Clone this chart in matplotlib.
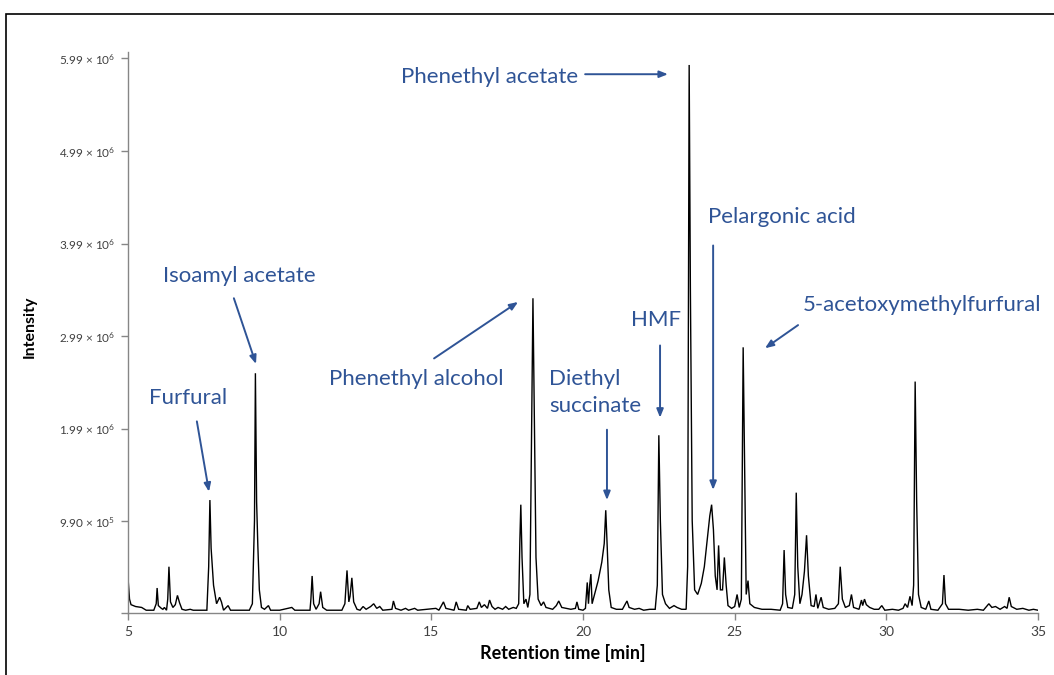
import numpy as np
import matplotlib
matplotlib.use("Agg")
import matplotlib.pyplot as plt
from matplotlib.ticker import FixedLocator, FuncFormatter
from matplotlib.patches import Rectangle

plt.rcParams['font.family'] = ['Lato', 'DejaVu Sans']
plt.rcParams['mathtext.fontset'] = 'custom'
plt.rcParams['mathtext.rm'] = 'Lato'
plt.rcParams['mathtext.it'] = 'Lato:italic'
plt.rcParams['mathtext.bf'] = 'Lato:bold'

# ---- Chromatogram trace (retention time in min, intensity in units of 1e6) ----
rt_a = [5.00, 5.05, 5.10, 5.25, 5.45, 5.60, 5.85, 5.93, 5.96, 6.00, 6.10, 6.15, 6.20, 6.27,
        6.31, 6.35, 6.40, 6.48, 6.56, 6.63, 6.70, 6.78, 6.90, 7.05, 7.15, 7.60, 7.66, 7.70,
        7.74, 7.82, 7.92, 8.02, 8.08, 8.15, 8.30, 8.38, 8.60, 9.00, 9.10, 9.17, 9.20, 9.24,
        9.28, 9.33, 9.40, 9.50, 9.63, 9.70, 10.00, 10.40, 10.50, 11.00, 11.03, 11.07, 11.12,
        11.20, 11.30, 11.35, 11.42, 11.55, 12.05, 12.15, 12.22, 12.28, 12.32, 12.38, 12.44,
        12.55, 12.65, 12.75, 12.85, 13.00, 13.10, 13.20, 13.30, 13.40, 13.70, 13.75, 13.82,
        14.00, 14.15, 14.25, 14.45, 14.55, 15.15, 15.25, 15.40, 15.48, 15.75, 15.82, 15.90,
        16.15, 16.20, 16.28, 16.50, 16.58, 16.65, 16.75, 16.85, 16.92, 17.00, 17.10, 17.20,
        17.35, 17.45, 17.55, 17.70, 17.80, 17.88, 17.92, 17.95, 17.99, 18.05, 18.12, 18.18,
        18.25, 18.32, 18.35, 18.40, 18.45, 18.52, 18.62, 18.70, 18.78, 19.00, 19.12, 19.20,
        19.30, 19.45, 19.60, 19.75, 19.80, 19.86, 20.00]
int_a = [0.38, 0.15, 0.09, 0.07, 0.06, 0.03, 0.03, 0.10, 0.27, 0.08, 0.05, 0.04, 0.06, 0.03,
         0.15, 0.50, 0.12, 0.06, 0.09, 0.19, 0.11, 0.04, 0.03, 0.04, 0.03, 0.03, 0.50, 1.22,
         0.70, 0.30, 0.10, 0.17, 0.12, 0.03, 0.08, 0.03, 0.03, 0.03, 0.10, 1.00, 2.59, 1.20,
         0.73, 0.25, 0.06, 0.04, 0.08, 0.03, 0.03, 0.06, 0.03, 0.03, 0.15, 0.40, 0.10,
         0.04, 0.10, 0.23, 0.06, 0.03, 0.03, 0.10, 0.46, 0.12, 0.18, 0.38, 0.12,
         0.04, 0.03, 0.07, 0.04, 0.07, 0.10, 0.05, 0.07, 0.03, 0.04, 0.13, 0.05,
         0.03, 0.05, 0.03, 0.05, 0.03, 0.05, 0.03, 0.12, 0.05, 0.03, 0.12, 0.04,
         0.03, 0.08, 0.04, 0.05, 0.12, 0.06, 0.09, 0.05, 0.14, 0.07, 0.04, 0.06,
         0.04, 0.07, 0.04, 0.06, 0.05, 0.10, 0.80, 1.17, 0.60, 0.10, 0.15, 0.06,
         0.20, 2.50, 3.40, 2.00, 0.60, 0.15, 0.08, 0.12, 0.06, 0.04, 0.08, 0.13,
         0.06, 0.05, 0.04, 0.05, 0.12, 0.04, 0.03]
rt_b = [20.08, 20.14, 20.18, 20.22, 20.26, 20.30, 20.38, 20.50, 20.62, 20.70, 20.75, 20.80,
        20.85, 20.93, 21.10, 21.30, 21.45, 21.52, 21.70, 21.85, 22.00, 22.20, 22.38, 22.45,
        22.50, 22.55, 22.62, 22.72, 22.85, 23.00, 23.10, 23.25, 23.40, 23.45, 23.50, 23.54,
        23.60, 23.68, 23.78, 23.90, 24.00, 24.10, 24.18, 24.24, 24.30, 24.36, 24.42, 24.47,
        24.53, 24.60, 24.66, 24.72, 24.78, 24.90, 25.00, 25.08, 25.15, 25.22, 25.28, 25.33,
        25.38, 25.44, 25.50, 25.65, 25.90, 26.20, 26.50, 26.58, 26.63, 26.68, 26.75, 26.90,
        26.98, 27.03, 27.08, 27.15, 27.22, 27.30, 27.37, 27.43, 27.52, 27.62, 27.68, 27.74,
        27.85, 27.92, 28.10, 28.30, 28.42, 28.48, 28.55, 28.65, 28.78, 28.85, 28.92, 29.10,
        29.18, 29.22, 29.28, 29.34, 29.45, 29.60, 29.75, 29.85, 29.95, 30.20, 30.40, 30.55,
        30.62, 30.70, 30.78, 30.85, 30.90, 30.95, 31.00, 31.06, 31.15, 31.30, 31.40, 31.47,
        31.70, 31.85, 31.90, 31.95, 32.05, 32.40, 32.70, 33.00, 33.20, 33.38, 33.48, 33.60,
        33.75, 33.90, 33.98, 34.05, 34.12, 34.30, 34.50, 34.70, 34.85, 35.00]
int_b = [0.05, 0.33, 0.10, 0.30, 0.42, 0.10, 0.20, 0.35, 0.55, 0.75, 1.11, 0.70,
         0.25, 0.06, 0.04, 0.04, 0.13, 0.06, 0.04, 0.05, 0.03, 0.04, 0.04, 0.30,
         1.92, 1.00, 0.20, 0.10, 0.05, 0.08, 0.06, 0.04, 0.04, 0.50, 5.92, 3.50,
         1.00, 0.25, 0.20, 0.32, 0.50, 0.80, 1.05, 1.17, 0.90, 0.40, 0.25, 0.73,
         0.25, 0.25, 0.60, 0.30, 0.08, 0.05, 0.07, 0.20, 0.06, 0.15, 2.87, 1.50,
         0.20, 0.35, 0.10, 0.06, 0.04, 0.04, 0.03, 0.10, 0.68, 0.20, 0.06, 0.05,
         0.20, 1.30, 0.50, 0.10, 0.20, 0.45, 0.84, 0.40, 0.08, 0.07, 0.20, 0.05,
         0.17, 0.06, 0.04, 0.05, 0.10, 0.50, 0.15, 0.06, 0.08, 0.20, 0.06, 0.04,
         0.14, 0.08, 0.15, 0.09, 0.06, 0.04, 0.04, 0.08, 0.03, 0.04, 0.03, 0.05,
         0.10, 0.06, 0.18, 0.08, 0.30, 2.50, 1.20, 0.20, 0.06, 0.04, 0.13, 0.04,
         0.03, 0.10, 0.41, 0.10, 0.04, 0.04, 0.03, 0.04, 0.03, 0.10, 0.06, 0.07,
         0.04, 0.07, 0.05, 0.17, 0.07, 0.04, 0.05, 0.03, 0.04, 0.03]

# ---- Axis ticks ----
y_ticks = [0.0, 0.99, 1.99, 2.99, 3.99, 4.99, 5.99]   # x 1e6
x_ticks = [5, 10, 15, 20, 25, 30, 35]

# ---- Annotations: label, text position (rt, int), arrow start, arrow end ----
ann_labels = ["Phenethyl acetate", "Isoamyl acetate", "Furfural", "Phenethyl alcohol",
              "Diethyl\nsuccinate", "HMF", "Pelargonic acid", "5-acetoxymethylfurfural"]
ann_text_rt = [14.00, 8.66, 6.98, 14.50, 18.88, 22.41, 24.12, 27.26]
ann_text_int = [5.79, 3.64, 2.32, 2.53, 2.38, 3.17, 4.28, 3.33]
ann_ha = ["left", "center", "center", "center", "left", "center", "left", "left"]
arr_from_rt = [20.07, 8.49, 7.27, 15.09, 20.79, 22.54, 24.29, 27.09]
arr_from_int = [5.82, 3.40, 2.07, 2.75, 1.98, 2.89, 3.97, 3.11]
arr_to_rt = [22.80, 9.22, 7.67, 17.86, 20.79, 22.54, 24.29, 26.00]
arr_to_int = [5.82, 2.69, 1.31, 3.36, 1.22, 2.11, 1.33, 2.86]

SCALE = 1e6
blue = "#2F5496"
grey = "#868686"

fig = plt.figure(figsize=(10.54, 6.75), dpi=100)
ax = fig.add_axes([128/1054, 1-613/675, (1038-128)/1054, (613-52)/675])

rt = np.array(rt_a + rt_b)
inten = np.array(int_a + int_b) * SCALE
ax.plot(rt, inten, color="black", lw=1.0, solid_joinstyle="miter")

ax.set_xlim(5, 35)
ax.set_ylim(0, 6.06 * SCALE)

ax.xaxis.set_major_locator(FixedLocator(x_ticks))
ax.yaxis.set_major_locator(FixedLocator([v * SCALE for v in y_ticks]))


def sci_fmt(v, pos):
    if v <= 0:
        return ""
    e = int(np.floor(np.log10(v) + 1e-9))
    m = v / 10 ** e
    return r"%.2f $\times$ 10$^{%d}$" % (m, e)


ax.yaxis.set_major_formatter(FuncFormatter(sci_fmt))

for s in ["top", "right"]:
    ax.spines[s].set_visible(False)
for s in ["left", "bottom"]:
    ax.spines[s].set_color(grey)
    ax.spines[s].set_linewidth(1.0)
ax.tick_params(axis="both", colors=grey, length=5, width=1.0, direction="out",
               labelcolor="#404040")
ax.tick_params(axis="y", labelsize=8.5, pad=4)
ax.tick_params(axis="x", labelsize=10, pad=4)

ax.set_xlabel("Retention time [min]", fontsize=13, fontweight="bold", labelpad=7)
ax.xaxis.set_label_coords((563 - 128) / 910, -0.055)
ax.set_ylabel("Intensity", fontsize=11.5, fontweight="bold", va="center")
ax.yaxis.set_label_coords(-(128 - 30) / 910, (613 - 327) / 561)

for lab, tx, ty, ha, fx, fy, tx2, ty2 in zip(ann_labels, ann_text_rt, ann_text_int, ann_ha,
                                             arr_from_rt, arr_from_int, arr_to_rt, arr_to_int):
    ax.text(tx, ty * SCALE, lab, color=blue, fontsize=16, ha=ha, va="center",
            linespacing=1.4)
    ax.annotate("", xy=(tx2, ty2 * SCALE), xytext=(fx, fy * SCALE),
                arrowprops=dict(arrowstyle="-|>,head_length=0.5,head_width=0.2",
                                color=blue, lw=1.4, shrinkA=0, shrinkB=0))

# figure frame (left and top edges visible)
fig.patches.append(Rectangle((6/1054, -0.1), 1.2, 1 - 14/675 + 0.1,
                             transform=fig.transFigure, fill=False,
                             edgecolor="black", lw=1.2))

fig.savefig("out.png", dpi=100)
